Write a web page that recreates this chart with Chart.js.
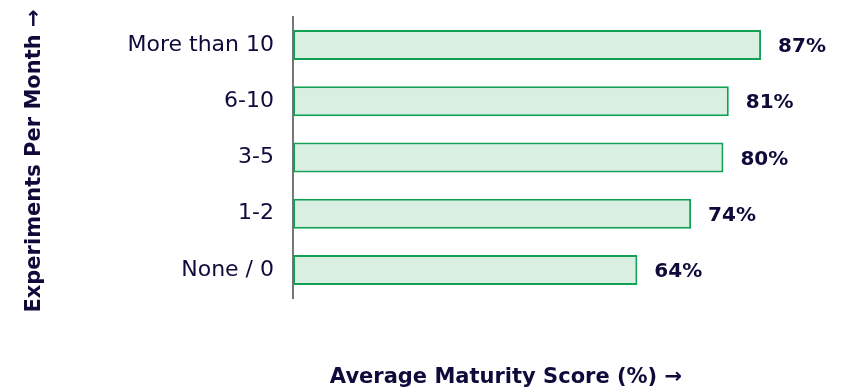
<!DOCTYPE html>
<html>
<head>
<meta charset="utf-8">
<script src="https://cdn.jsdelivr.net/npm/chart.js@4/dist/chart.umd.min.js"></script>
<style>
  html, body { margin: 0; padding: 0; background: #ffffff; }
  #wrap { width: 843px; height: 390px; position: relative; }
</style>
</head>
<body>
<div id="wrap"><canvas id="chart"></canvas></div>
<script>
// Experiment cadence buckets and their average maturity score
const categories = ['More than 10', '6-10', '3-5', '1-2', 'None / 0'];
const scores = [87, 81, 80, 74, 64];
const xTitle = 'Average Maturity Score (%) \u2192';
const yTitle = 'Experiments Per Month \u2192';

const INK = '#0e0b3a';
const FONT = '"DejaVu Sans", sans-serif';

// Percentage labels at the end of each bar, plus both axis titles
const annotate = {
  id: 'annotate',
  afterDatasetsDraw(chart) {
    const ctx = chart.ctx;
    const meta = chart.getDatasetMeta(0);
    ctx.save();
    ctx.fillStyle = INK;
    ctx.font = 'bold 20px ' + FONT;
    ctx.textAlign = 'left';
    ctx.textBaseline = 'alphabetic';
    meta.data.forEach((bar, i) => {
      ctx.fillText(scores[i] + '%', bar.x + 17, bar.y + 7);
    });

    ctx.font = 'bold 21px ' + FONT;
    ctx.textAlign = 'center';
    ctx.fillText(xTitle, 506, 383);

    ctx.translate(40, 161);
    ctx.rotate(-Math.PI / 2);
    ctx.fillText(yTitle, 0, 0);
    ctx.restore();
  }
};

new Chart(document.getElementById('chart'), {
  type: 'bar',
  data: {
    labels: categories,
    datasets: [{
      data: scores,
      backgroundColor: '#d9efe2',
      borderColor: '#11a155',
      borderWidth: 2,
      borderSkipped: false,
      categoryPercentage: 0.6,
      barPercentage: 0.89
    }]
  },
  options: {
    indexAxis: 'y',
    responsive: true,
    maintainAspectRatio: false,
    animation: false,
    layout: { padding: { top: 17, right: 12, bottom: 92, left: 0 } },
    plugins: {
      legend: { display: false },
      tooltip: { enabled: false }
    },
    scales: {
      x: {
        min: 0,
        max: 100,
        display: false
      },
      y: {
        grid: { display: false, drawTicks: false },
        border: { display: true, color: '#777777', width: 2 },
        ticks: {
          color: INK,
          padding: 19,
          font: { family: FONT, size: 22 }
        },
        afterFit(scale) {
          scale.width = 293;
          scale.paddingTop = 0;
          scale.paddingBottom = 0;
        }
      }
    }
  },
  plugins: [annotate]
});
</script>
</body>
</html>
